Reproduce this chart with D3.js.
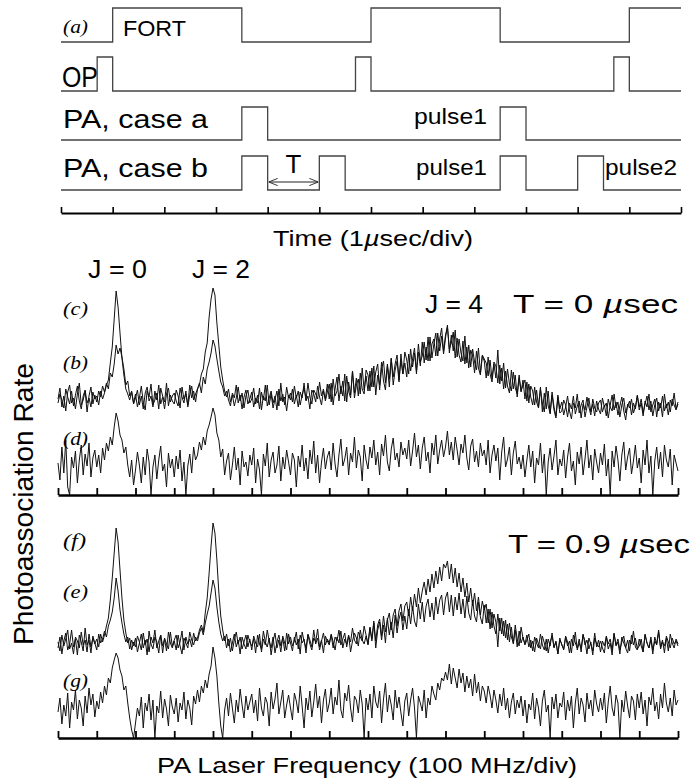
<!DOCTYPE html>
<html>
<head>
<meta charset="utf-8">
<script src="https://cdn.jsdelivr.net/npm/d3@7"></script>
<style>
  body { margin: 0; background: #fff; }
  svg { display: block; }
</style>
</head>
<body>
<div id="viz"></div>
<script>
// Timing diagram (a) + photoassociation spectra (b)-(g)

// ---- timing data (µs) ----
const TIME_TICKS = d3.range(0, 13);
const FORT_ON = [[1, 3.5], [6, 8.5], [11, 12]];
const OP_ON = [[0.7, 1.0], [5.7, 6.0], [10.7, 11.0]];
const PA_A_ON = [[3.5, 4.0], [8.5, 9.0]];
const PA_B_ON = [[3.5, 4.0], [5.0, 5.5], [8.5, 9.0], [10.0, 10.5]];
const T_SPAN = [4.0, 5.0];

// ---- spectra (100 MHz/div, sampled every 0.05 div, arbitrary rate units) ----
const FREQ_TICKS = d3.range(0, 17);
const FREQ_STEP = 0.05;

// T = 0 µs panel
const TRACE_B = [
  96,107,88,99,84,103,110,92,97,86,101,112,90,95,104,83,99,108,91,100,
  93,104,98,109,103,112,106,122,118,131,150,141,147,138,126,110,114,99,104,92,
  101,88,97,109,93,85,104,98,111,90,95,102,86,107,99,93,112,89,100,94,
  91,105,99,87,108,96,101,90,110,97,104,93,106,112,102,118,111,126,133,142,
  155,149,136,124,113,108,99,104,95,89,102,97,110,92,100,86,98,105,91,96,
  103,88,97,92,107,85,99,94,110,90,101,87,96,104,89,112,93,98,84,100,
  95,106,91,100,88,103,97,112,94,99,86,105,101,93,109,98,90,104,96,111,
  96,112,90,106,118,94,109,99,121,93,113,100,124,97,110,116,101,127,105,119,
  104,124,108,129,100,120,110,133,114,105,131,116,137,110,125,134,113,141,121,132,
  118,141,124,136,147,121,143,129,153,132,148,134,158,137,151,162,139,156,167,144,
  160,168,146,152,163,137,157,140,133,154,131,148,127,145,139,122,144,127,120,139,
  134,117,138,121,113,131,117,145,111,127,106,124,109,102,125,106,120,98,117,104,
  110,115,94,111,98,90,108,93,87,106,92,83,108,89,82,103,88,79,100,86,
  93,80,88,99,84,76,92,87,101,82,90,95,78,88,97,83,91,79,94,86,
  81,97,88,92,77,90,100,85,93,80,89,98,84,75,91,87,96,82,88,99,
  85,92,79,94,88,101,83,90,96,78,93,87,99,84,91,80,95,89,102,86,
  93
];
const TRACE_C = [
  92,101,95,87,106,98,91,104,89,100,109,94,86,99,105,92,97,88,103,96,
  99,90,104,96,102,110,115,132,148,176,204,188,162,137,120,106,101,95,103,91,
  97,105,90,99,86,102,108,94,99,88,104,95,110,91,98,86,101,107,93,99,
  102,94,89,107,98,92,104,88,100,109,95,101,106,110,121,126,143,152,178,196,
  207,200,172,150,128,115,104,98,106,93,100,89,97,108,94,102,87,99,105,92,
  96,107,91,100,86,103,95,110,89,97,104,92,99,85,106,94,101,90,108,97,
  102,93,109,97,104,90,100,107,95,112,98,91,105,101,96,113,99,106,94,103,
  111,93,116,99,104,121,101,114,94,119,104,97,124,102,117,99,122,106,101,125,
  120,104,127,108,123,131,105,126,134,112,129,108,136,118,131,140,115,135,121,143,
  135,121,146,128,142,124,151,133,139,153,135,158,134,151,156,139,162,144,159,141,
  157,170,142,160,144,165,138,156,142,134,159,132,150,128,146,133,125,147,122,140,
  136,132,119,135,116,133,129,112,130,114,132,107,126,111,104,123,107,101,120,103,
  115,96,113,92,109,104,90,105,88,108,83,102,86,104,81,100,85,77,98,82,
  84,95,90,78,92,86,99,81,89,94,77,91,85,98,88,80,96,87,83,92,
  95,83,90,79,96,88,84,101,87,93,78,90,97,82,89,94,80,92,86,100,
  88,96,82,91,99,85,94,79,90,97,84,92,78,101,87,93,83,96,90,85,
  91
];
const TRACE_D = [
  32,15,48,22,55,8,0,38,27,44,12,35,50,20,41,29,52,18,37,45,
  28,40,22,47,35,52,44,58,50,68,82,74,60,55,42,48,30,18,35,10,
  25,43,30,12,38,20,46,33,0,28,40,16,35,49,24,31,8,42,27,36,
  18,39,26,45,14,33,0,29,41,22,48,35,40,53,45,58,50,64,70,78,
  87,80,62,55,38,46,20,34,42,15,30,48,25,37,10,44,28,33,19,40,
  30,47,12,36,25,0,41,29,52,18,35,43,22,30,49,14,38,26,45,33,
  20,42,35,8,39,28,50,24,37,16,45,31,54,22,40,12,33,47,26,38,
  44,25,52,31,18,40,56,29,36,48,20,42,33,58,27,45,38,14,50,35,
  26,48,37,55,30,43,20,51,39,60,33,24,46,57,35,42,28,53,40,47,
  36,55,29,44,62,38,50,26,47,58,34,43,22,52,40,60,31,45,55,38,
  48,64,40,53,35,58,45,30,51,42,60,37,25,49,56,33,44,28,52,39,
  45,30,55,22,40,50,34,47,15,43,58,28,36,48,20,42,54,31,38,26,
  40,18,35,50,28,44,12,37,30,52,22,41,0,33,47,25,39,55,20,36,
  29,45,17,38,52,24,34,10,43,31,48,20,36,55,27,40,15,46,33,22,
  42,30,51,19,36,0,44,28,49,35,14,40,53,25,38,47,21,34,50,27,
  37,12,45,30,55,22,39,0,34,48,26,43,18,50,35,28,46,10,40,32,
  24
];

// T = 0.9 µs panel
const TRACE_E = [
  90,101,84,97,105,88,94,108,91,99,83,103,96,87,110,93,98,85,102,95,
  88,104,95,99,107,101,112,118,126,140,160,147,128,115,104,96,101,89,98,92,
  100,86,95,104,90,98,83,107,94,89,101,96,85,103,92,99,87,106,95,90,
  97,88,103,92,84,100,95,90,106,98,93,101,97,105,110,103,115,124,132,145,
  158,150,131,116,104,97,102,90,99,86,95,104,91,98,84,101,94,89,103,96,
  92,99,85,103,94,89,107,96,91,100,83,97,105,90,98,86,102,95,88,104,
  95,87,101,93,99,84,106,97,90,103,94,88,100,96,109,91,98,85,102,97,
  93,104,96,88,101,95,107,90,99,94,103,86,97,105,100,92,108,98,94,102,
  93,110,97,115,90,108,116,98,113,95,120,103,116,100,123,105,119,126,108,122,
  109,129,114,132,117,111,134,119,136,116,132,139,121,135,118,141,124,138,143,123,
  140,146,126,143,122,141,128,145,124,139,120,142,125,118,138,122,116,136,121,114,
  133,115,129,109,126,112,104,124,107,120,102,118,98,115,101,95,113,99,92,111,
  100,94,103,91,98,87,101,95,90,104,93,88,99,85,96,102,91,97,84,100,
  93,89,102,96,85,99,92,106,88,95,90,103,97,84,100,94,87,105,91,98,
  86,97,92,101,89,95,83,104,93,99,88,96,102,90,85,98,94,107,91,88,
  99,92,86,103,95,90,98,84,101,94,108,89,96,92,100,87,104,95,90,99,
  94
];
const TRACE_F = [
  96,87,103,92,99,108,89,95,84,101,97,90,106,93,98,86,104,91,100,94,
  99,91,104,96,103,112,120,138,160,185,210,196,168,140,118,105,95,100,88,96,
  91,102,96,88,105,93,99,86,101,95,108,90,97,103,85,100,94,89,106,92,
  98,103,90,96,107,88,101,94,99,91,105,97,100,108,113,106,125,140,165,192,
  215,205,178,146,122,108,97,104,92,100,87,98,106,94,101,89,96,103,91,99,
  88,102,95,91,104,86,99,93,108,97,90,101,85,96,103,92,100,87,105,94,
  101,92,97,106,89,103,95,99,85,104,98,91,108,94,100,88,97,105,93,99,
  95,103,90,101,97,108,93,99,105,91,102,96,110,98,94,106,101,97,112,103,
  94,111,99,117,97,113,119,102,122,106,118,125,108,123,129,112,127,134,117,132,
  136,122,141,127,144,131,150,135,147,156,143,159,146,164,150,167,154,171,157,174,
  170,177,159,174,155,170,151,165,146,160,141,155,136,150,132,145,127,141,123,137,
  128,134,115,129,110,124,116,91,120,104,117,100,114,96,111,94,108,91,107,95,
  101,93,98,104,90,97,86,100,94,89,102,95,87,99,92,105,90,96,84,98,
  94,88,101,92,97,85,103,95,90,99,86,104,93,98,89,96,83,100,94,91,
  97,90,85,102,94,99,88,105,92,96,84,101,95,90,98,87,103,93,100,89,
  92,99,86,104,95,90,101,88,97,93,106,91,98,85,102,96,90,100,94,97,
  92
];
const TRACE_G = [
  26,40,14,33,22,45,10,36,28,48,19,38,30,12,42,25,50,33,44,21,
  37,29,46,35,52,43,60,55,70,78,85,80,68,62,48,52,35,20,8,0,
  15,30,22,41,10,35,27,44,18,38,0,32,25,47,20,39,29,12,43,31,
  24,40,16,35,28,46,19,38,30,13,42,34,48,36,52,45,58,50,64,72,
  91,80,62,35,12,0,28,40,22,45,30,15,38,26,49,33,20,42,28,36,
  44,25,38,17,50,30,22,41,35,12,46,29,39,55,24,36,48,20,33,43,
  30,18,45,37,25,52,32,10,40,28,47,21,36,54,30,42,15,38,49,26,
  35,50,24,41,33,58,28,20,45,37,53,30,16,42,38,25,48,34,0,40,
  28,44,20,52,36,30,47,15,39,55,26,43,33,18,48,30,41,25,12,37,
  45,22,38,50,30,0,42,35,27,48,20,40,33,52,44,38,55,48,60,57,
  66,58,74,54,70,60,50,69,55,65,46,62,50,59,42,64,45,56,37,52,
  47,35,52,43,30,48,38,25,44,32,50,28,40,20,36,45,24,38,30,42,
  22,38,15,34,28,45,19,40,30,12,37,48,26,33,0,41,29,44,20,35,
  31,46,18,38,27,42,10,35,50,24,40,33,16,45,29,38,22,48,34,26,
  40,28,45,15,36,52,30,22,43,35,0,38,26,47,32,20,42,37,18,44,
  30,46,24,38,12,41,33,50,27,36,19,44,30,55,35,26,40,22,48,33,
  38
];

const SANS = "'Liberation Sans', Arial, Helvetica, sans-serif";
const SERIF = "'Liberation Serif', 'Times New Roman', serif";

const W = 692, H = 783;
const svg = d3.select("#viz").append("svg")
  .attr("width", W).attr("height", H)
  .attr("viewBox", `0 0 ${W} ${H}`);

function label(str, x, y, size, len, opts = {}) {
  const t = svg.append("text")
    .attr("x", x).attr("y", y)
    .attr("font-family", opts.serif ? SERIF : SANS)
    .attr("font-size", size)
    .attr("font-style", opts.italic ? "italic" : null)
    .attr("text-anchor", opts.anchor || "start")
    .attr("fill", "#000");
  if (opts.transform) t.attr("transform", opts.transform);
  if (Array.isArray(str)) {
    str.forEach(([s, it]) => t.append("tspan").attr("font-style", it ? "italic" : null).text(s));
  } else {
    t.text(str);
  }
  if (len) t.attr("textLength", len).attr("lengthAdjust", opts.adjust || "spacingAndGlyphs");
  return t;
}

// ================= timing diagram =================
const tx = d3.scaleLinear().domain([0, 12]).range([61, 681]);

function pulsePath(on, hi, lo) {
  const p = d3.path();
  p.moveTo(tx(0), lo);
  on.forEach(([a, b]) => {
    p.lineTo(tx(a), lo);
    p.lineTo(tx(a), hi);
    p.lineTo(tx(b), hi);
    if (b < 12) p.lineTo(tx(b), lo);
  });
  const last = on[on.length - 1];
  if (last[1] < 12) p.lineTo(tx(12), lo);
  return p.toString();
}

const SIGNALS = [
  { on: FORT_ON, hi: 8, lo: 42 },
  { on: OP_ON, hi: 57, lo: 91 },
  { on: PA_A_ON, hi: 107, lo: 140 },
  { on: PA_B_ON, hi: 156, lo: 190 }
];

svg.append("g").selectAll("path")
  .data(SIGNALS)
  .enter().append("path")
  .attr("d", s => pulsePath(s.on, s.hi, s.lo))
  .attr("fill", "none")
  .attr("stroke", "#444")
  .attr("stroke-width", 1.3);

// T arrow
svg.append("defs").selectAll("marker")
  .data(["arrEnd", "arrStart"])
  .enter().append("marker")
  .attr("id", d => d)
  .attr("viewBox", "0 0 10 10")
  .attr("refX", d => d === "arrEnd" ? 10 : 0).attr("refY", 5)
  .attr("markerWidth", 9).attr("markerHeight", 9)
  .attr("markerUnits", "userSpaceOnUse")
  .attr("orient", "auto")
  .append("path")
  .attr("d", d => d === "arrEnd" ? "M0,1 L10,5 L0,9" : "M10,1 L0,5 L10,9")
  .attr("fill", "none").attr("stroke", "#222").attr("stroke-width", 1);

svg.append("line")
  .attr("x1", tx(T_SPAN[0]) + 1).attr("x2", tx(T_SPAN[1]) - 1)
  .attr("y1", 182).attr("y2", 182)
  .attr("stroke", "#222").attr("stroke-width", 1)
  .attr("marker-start", "url(#arrStart)")
  .attr("marker-end", "url(#arrEnd)");

// time axis
const timeAxis = svg.append("g")
  .attr("transform", "translate(0,213)")
  .call(d3.axisTop(tx).tickValues(TIME_TICKS).tickSize(6).tickSizeOuter(0).tickFormat(""));
timeAxis.select(".domain").attr("stroke", "#000").attr("stroke-width", 2);
timeAxis.selectAll(".tick line").attr("stroke", "#000").attr("stroke-width", 1.6);

label("(a)", 63, 33, 18, 25, { serif: true, italic: true });
label("FORT", 123, 36, 22, 63);
label("OP", 62, 87, 30, 36);
label("PA, case a", 63, 128, 25, 145);
label("PA, case b", 63, 177, 25, 145);
label("pulse1", 414, 124, 22, 73);
label("pulse1", 416, 175, 22, 71);
label("pulse2", 605, 175, 22, 72);
label("T", (tx(T_SPAN[0]) + tx(T_SPAN[1])) / 2, 173, 26, null, { anchor: "middle" });
label([["Time (1", false], ["µ", true], ["sec/div)", false]], 273, 246, 22, 200);

// ================= spectra =================
const fx = d3.scaleLinear().domain([0, 16]).range([58, 678]);
const yMid = d3.scaleLinear().domain([0, 220]).range([495, 275]);
const yLow = d3.scaleLinear().domain([0, 220]).range([738, 518]);

function drawTraces(traces, y) {
  const line = d3.line()
    .x((v, i) => fx(i * FREQ_STEP))
    .y(v => y(v));
  svg.append("g").selectAll("path")
    .data(traces)
    .enter().append("path")
    .attr("d", line)
    .attr("fill", "none")
    .attr("stroke", "#111")
    .attr("stroke-width", 1)
    .attr("stroke-linejoin", "round");
}

function drawFreqAxis(y0) {
  const g = svg.append("g")
    .attr("transform", `translate(0,${y0})`)
    .call(d3.axisTop(fx).tickValues(FREQ_TICKS).tickSize(7).tickSizeOuter(0).tickFormat(""));
  g.select(".domain").attr("stroke", "#000").attr("stroke-width", 2.5);
  g.selectAll(".tick line").attr("stroke", "#000").attr("stroke-width", 1.8);
}

drawTraces([TRACE_B, TRACE_C, TRACE_D], yMid);
drawTraces([TRACE_E, TRACE_F, TRACE_G], yLow);
drawFreqAxis(495);
drawFreqAxis(738);

label("J = 0", 88, 278, 25, 59);
label("J = 2", 192, 278, 25, 58);
label("J = 4", 425, 313, 25, 58);
label([["T  =  0 ", false], ["µ", true], ["sec", false]], 513, 313, 25, 165);
label([["T  =  0.9 ", false], ["µ", true], ["sec", false]], 508, 553, 25, 182);

label("(c)", 63, 315, 19, 25, { serif: true, italic: true });
label("(b)", 63, 369, 19, 25, { serif: true, italic: true });
label("(d)", 63, 445, 19, 25, { serif: true, italic: true });
label("(f)", 63, 547, 19, 23, { serif: true, italic: true });
label("(e)", 63, 598, 19, 25, { serif: true, italic: true });
label("(g)", 63, 687, 19, 25, { serif: true, italic: true });

label("PA Laser Frequency (100 MHz/div)", 367, 773, 22, 420, { anchor: "middle" });
label("Photoassociation Rate", 0, 0, 28, 282, { anchor: "middle", transform: "translate(33,504) rotate(-90)" });
</script>
</body>
</html>
